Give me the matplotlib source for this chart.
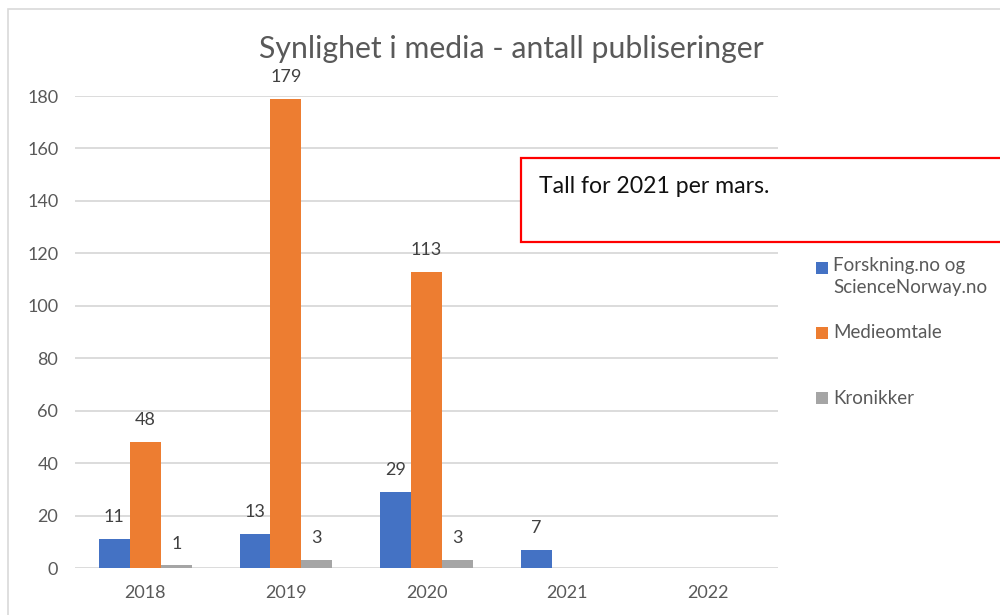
import numpy as np
import matplotlib as mpl
mpl.use('Agg')
from matplotlib import pyplot as plt
from matplotlib.patches import Rectangle

years = ['2018', '2019', '2020', '2021', '2022']
forskning = [11, 13, 29, 7, np.nan]
medieomtale = [48, 179, 113, np.nan, np.nan]
kronikker = [1, 3, 3, np.nan, np.nan]
series_names = ['Forskning.no og\nScienceNorway.no', 'Medieomtale', 'Kronikker']
colors = ['#4472C4', '#ED7D31', '#A5A5A5']
note = 'Tall for 2021 per mars.'

plt.rcParams['font.family'] = ['Lato', 'DejaVu Sans']

fig = plt.figure(figsize=(10, 6.15), dpi=100)
ax = fig.add_axes([0.075, 0.0764, 0.703, 0.7675])

x = np.arange(len(years))
w = 0.22
for i, vals in enumerate([forskning, medieomtale, kronikker]):
    pos = x + (i - 1) * w
    ax.bar(pos, vals, width=w, color=colors[i], zorder=3)
    for p, v in zip(pos, vals):
        if not np.isnan(v):
            ax.annotate(str(int(v)), (p, v), xytext=(0, 10), textcoords='offset points',
                        ha='center', va='bottom', fontsize=13, color='#404040',
                        annotation_clip=False)

ax.set_xlim(-0.5, len(years) - 0.5)
ax.set_ylim(0, 180)
ax.set_yticks(range(0, 181, 20))
ax.set_xticks(x)
ax.set_xticklabels(years)
ax.grid(axis='y', color='#D9D9D9', linewidth=1.3, zorder=0)
for s in ax.spines.values():
    s.set_visible(False)
ax.tick_params(axis='both', length=0, labelsize=13, labelcolor='#595959')
ax.tick_params(axis='y', pad=12)
ax.tick_params(axis='x', pad=12)

fig.text(0.511, 0.921, 'Synlighet i media - antall publiseringer', ha='center', va='center',
         fontsize=21.8, color='#595959')

# outer chart border
fig.patches.append(Rectangle((0.008, -0.1), 1.1, 1.085, transform=fig.transFigure,
                             fill=False, edgecolor='#D9D9D9', linewidth=1.2))

# note box
fig.patches.append(Rectangle((0.521, (615 - 242) / 615), 0.6, 84 / 615, transform=fig.transFigure,
                             facecolor='white', edgecolor='#FF0000', linewidth=1.6, zorder=5))
fig.text(0.539, (615 - 186) / 615, note, ha='left', va='center', fontsize=16.6,
         color='#111111', zorder=6)

# legend
legend_y = [268, 333, 398]
for name, c, yy in zip(series_names, colors, legend_y):
    fig.patches.append(Rectangle((0.816, (615 - yy - 6) / 615), 0.012, 12 / 615,
                                 transform=fig.transFigure, facecolor=c, edgecolor='none'))
    if '\n' in name:
        fig.text(0.833, (615 - yy + 11) / 615, name, ha='left', va='top',
                 fontsize=13.5, color='#595959', linespacing=1.35)
    else:
        fig.text(0.833, (615 - yy) / 615, name, ha='left', va='center',
                 fontsize=13.5, color='#595959')

fig.savefig('out.png', dpi=100)
